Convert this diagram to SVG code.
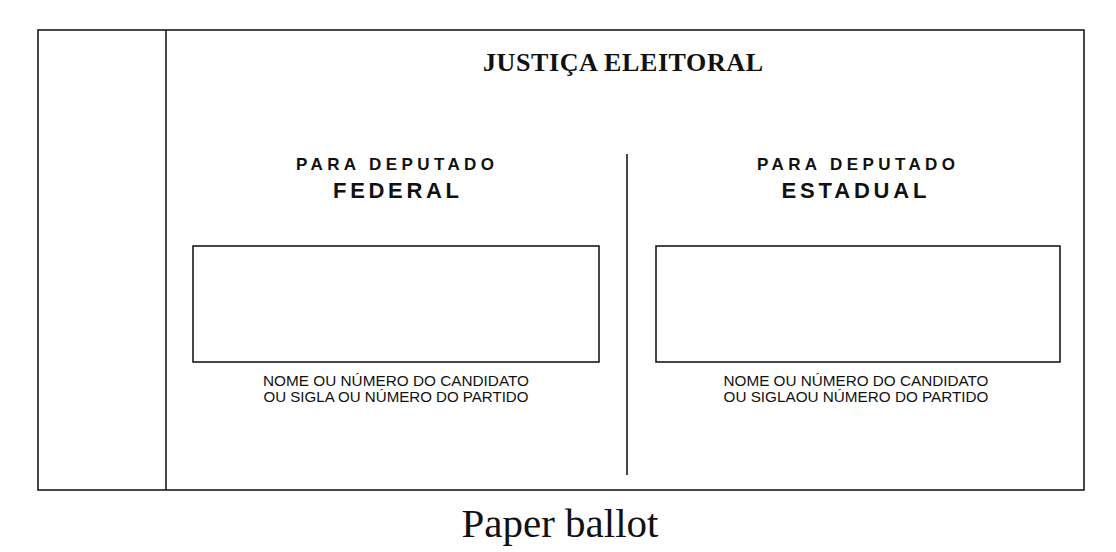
<svg xmlns="http://www.w3.org/2000/svg" width="1116" height="552" viewBox="0 0 1116 552">
<style>
.ln{fill:none;stroke:#1a1a1a;stroke-width:1.6}
.title{font-family:"Liberation Serif","Times New Roman",serif;font-weight:bold;font-size:26px;fill:#111}
.h1{font-family:"Liberation Sans",Arial,sans-serif;font-weight:bold;font-size:17px;fill:#111}
.h2{font-family:"Liberation Sans",Arial,sans-serif;font-weight:bold;font-size:22px;fill:#111}
.sm{font-family:"Liberation Sans",Arial,sans-serif;font-size:14.5px;fill:#111}
.cap{font-family:"Liberation Serif","Times New Roman",serif;font-size:41px;fill:#111}
</style>
<rect width="1116" height="552" fill="#fff"/>
<g id="ballot">
<rect class="ln" x="38" y="30" width="1046" height="460"/>
<line class="ln" x1="166" y1="30" x2="166" y2="490"/>
<line class="ln" x1="627" y1="154" x2="627" y2="475"/>
<text class="title" x="623" y="71" text-anchor="middle" textLength="280" lengthAdjust="spacing">JUSTIÇA ELEITORAL</text>
</g>
<g id="federal">
<text class="h1" x="395" y="170" text-anchor="middle" textLength="198" lengthAdjust="spacing">PARA DEPUTADO</text>
<text class="h2" x="396" y="198" text-anchor="middle" textLength="126" lengthAdjust="spacing">FEDERAL</text>
<rect class="ln" x="193" y="246" width="406" height="116"/>
<text class="sm" x="396" y="386" text-anchor="middle" textLength="266" lengthAdjust="spacingAndGlyphs">NOME OU NÚMERO DO CANDIDATO</text>
<text class="sm" x="396" y="402" text-anchor="middle" textLength="265" lengthAdjust="spacingAndGlyphs">OU SIGLA OU NÚMERO DO PARTIDO</text>
</g>
<g id="estadual">
<text class="h1" x="856" y="170" text-anchor="middle" textLength="198" lengthAdjust="spacing">PARA DEPUTADO</text>
<text class="h2" x="854" y="198" text-anchor="middle" textLength="145" lengthAdjust="spacing">ESTADUAL</text>
<rect class="ln" x="656" y="246" width="404" height="116"/>
<text class="sm" x="856" y="386" text-anchor="middle" textLength="265" lengthAdjust="spacingAndGlyphs">NOME OU NÚMERO DO CANDIDATO</text>
<text class="sm" x="856" y="402" text-anchor="middle" textLength="265" lengthAdjust="spacingAndGlyphs">OU SIGLAOU NÚMERO DO PARTIDO</text>
</g>
<g id="connectors"></g>
<text class="cap" x="560" y="537" text-anchor="middle">Paper ballot</text>
</svg>
